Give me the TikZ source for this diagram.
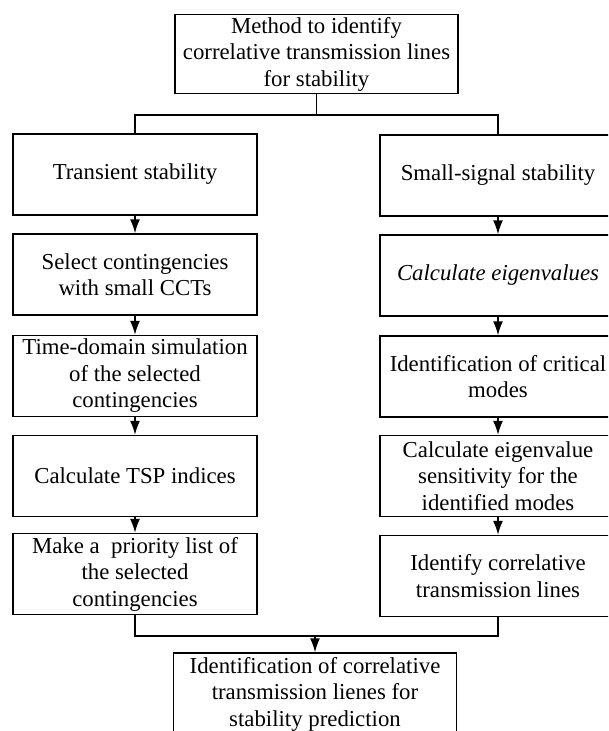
\documentclass[tikz,border=0pt]{standalone}
\usepackage{fontspec}
\setmainfont{Liberation Serif}
\usetikzlibrary{arrows.meta}

\begin{document}
\begin{tikzpicture}[x=1pt,y=-1pt,
        box/.style={draw,line width=1.4pt,rectangle,align=center,inner sep=2pt,
            minimum height=81pt,font=\fontsize{22.8}{26.5}\selectfont},
        colbox/.style={box,minimum width=244pt},
        widebox/.style={box,minimum width=283pt,minimum height=79pt},
        link/.style={line width=1.4pt},
        flow/.style={link,-{Latex[length=14pt,width=10pt]}}]
            \clip (0,0) rectangle (608,731);
            \node[widebox] (method) at (316.5,54) {Method to identify\\correlative transmission lines\\for stability};
            \begin{scope}
                \node[colbox] (trans) at (135,174.5) {Transient stability};
                \node[colbox] (select) at (135,274.5) {Select contingencies\\with small CCTs};
                \node[colbox] (timedom) at (135,376) {Time-domain simulation\\of the selected\\contingencies};
                \node[colbox] (tsp) at (135,476) {Calculate TSP indices};
                \node[colbox] (prio) at (135,574) {Make a~ priority list of\\the selected\\contingencies};
            \end{scope}
            \begin{scope}
                \node[colbox,minimum width=236pt] (small) at (498,175.5) {Small-signal stability};
                \node[colbox,minimum width=236pt] (eig) at (498,275.5) {\textit{Calculate eigenvalues}};
                \node[colbox,minimum width=236pt] (crit) at (498,376.5) {Identification of critical\\modes};
                \node[colbox,minimum width=236pt] (sens) at (498,476) {Calculate eigenvalue\\sensitivity for the\\identified modes};
                \node[colbox,minimum width=236pt] (ident) at (498,576) {Identify correlative\\transmission lines};
            \end{scope}
            \node[widebox,minimum height=82pt] (final) at (315,694) {Identification of correlative\\transmission lienes for\\stability prediction};
            % split and join
            \coordinate (split) at (method.south |- 0,115);
            \coordinate (join) at (final.north |- 0,636);
            \draw[link] (method) -- (split);
            \draw[link] (trans.north) -- (trans.north |- split) -- (small.north |- split) -- (small.north);
            \foreach \a/\b in {trans/select,select/timedom,timedom/tsp,tsp/prio,small/eig,eig/crit,crit/sens,sens/ident}
                \draw[flow] (\a) -- (\b);
            \draw[link] (prio.south) -- (prio.south |- join) -- (ident.south |- join) -- (ident.south);
            \draw[flow] (join) -- (final.north);
        \end{tikzpicture}
\end{document}
